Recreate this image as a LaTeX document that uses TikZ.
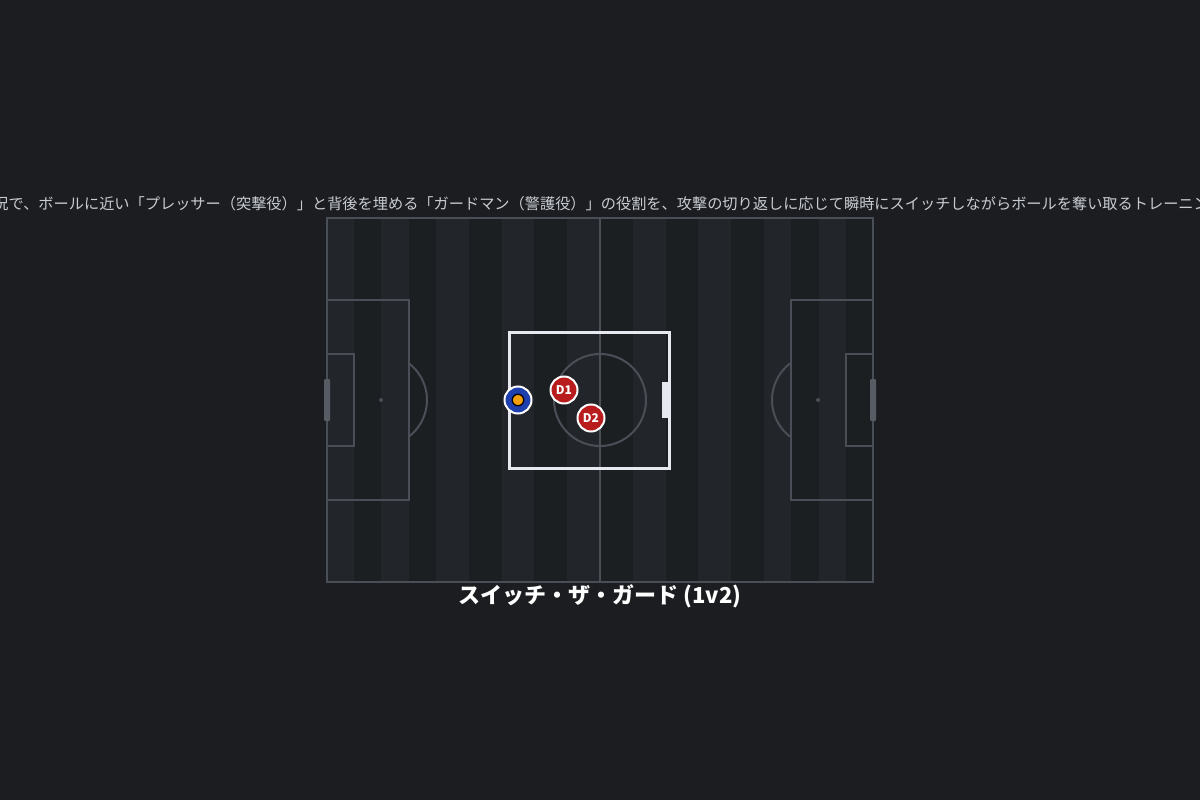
\documentclass[tikz,border=0pt]{standalone}
\usepackage{fontspec}
\setmainfont{Noto Sans CJK JP}
\usetikzlibrary{positioning}

\definecolor{bgcol}{HTML}{1B1D20}
\definecolor{stripedark}{HTML}{1C1F22}
\definecolor{stripelight}{HTML}{222529}
\definecolor{linegray}{HTML}{4A4F57}
\definecolor{goalgray}{HTML}{575C64}
\definecolor{zonewhite}{HTML}{E6EAF0}
\definecolor{attblue}{HTML}{1E40AF}
\definecolor{ballorange}{HTML}{F59E0B}
\definecolor{defred}{HTML}{B91C1C}
\definecolor{captiongray}{HTML}{C8CCD2}

\tikzstyle{pitchline} = [draw=linegray, line width=2pt]
\tikzstyle{zone} = [draw=zonewhite, line width=3pt]
\tikzstyle{attacker} = [circle, draw=white, line width=2pt, fill=attblue,
    minimum size=27pt, inner sep=0pt]
\tikzstyle{ball} = [circle, draw=black, line width=1.3pt, fill=ballorange,
    minimum size=11.5pt, inner sep=0pt]
\tikzstyle{defender} = [circle, draw=white, line width=2pt, fill=defred,
    minimum size=27pt, inner sep=0pt, text=white,
    font=\bfseries\fontsize{12}{12}\selectfont]

\begin{document}
\begin{tikzpicture}[x=1pt, y=-1pt]
		\useasboundingbox (0,0) rectangle (1200,800);
		\fill[bgcol] (0,0) rectangle (1200,800);
		
		% stripes
		\fill[stripedark] (327,218) rectangle (873,582);
		\foreach \a/\b in {327/354, 381/409, 436/469, 502/534, 567/600,
			633/666, 698/731, 764/791, 819/846}
			\fill[stripelight] (\a,218) rectangle (\b,582);
		
		% pitch markings
		\path[pitchline] (327,218) rectangle (873,582);
		\path[pitchline] (600,218) -- (600,582);
		\path[pitchline] (600,400) circle [radius=46];
		\fill[linegray] (600,400) circle [radius=1.5];
		\path[pitchline] (327,300) rectangle (409,500);
		\path[pitchline] (327,354) rectangle (354,446);
		\fill[linegray] (381,400) circle [radius=2];
		\path[pitchline] (409,363.5) arc [start angle=-52.5, end angle=52.5, radius=46];
		\path[pitchline] (791,300) rectangle (873,500);
		\path[pitchline] (846,354) rectangle (873,446);
		\fill[linegray] (818,400) circle [radius=2];
		\path[pitchline] (790,436.5) arc [start angle=127.5, end angle=232.5, radius=46];
		\fill[goalgray, rounded corners=1pt] (324,379) rectangle (330,421);
		\fill[goalgray, rounded corners=1pt] (870,379) rectangle (876,421);
		
		% drill area
		\path[zone] (509,332) rectangle (669,468);
		\fill[zonewhite] (662,382) rectangle (670,418);
		
		% players
		\node [attacker] (att) at (518,400) {};
		\node [ball] (ball) at (att) {};
		\node [defender] (d1) at (564,390) {D1};
		\node [defender] (d2) at (591,418) {D2};
		
		% texts
		\node [anchor=west, inner sep=0pt, text=captiongray,
			font=\fontsize{15.2}{15.2}\selectfont] (caption) at (-6.7,204)
			{況で、ボールに近い「プレッサー（突撃役）」と背後を埋める「ガードマン（警護役）」の役割を、攻撃の切り返しに応じて瞬時にスイッチしながらボールを奪い取るトレーニン};
		\node [text=white, inner sep=0pt, font=\bfseries\fontsize{22}{22}\selectfont]
			(title) at (600,596) {スイッチ・ザ・ガード (1v2)};
	\end{tikzpicture}
\end{document}
